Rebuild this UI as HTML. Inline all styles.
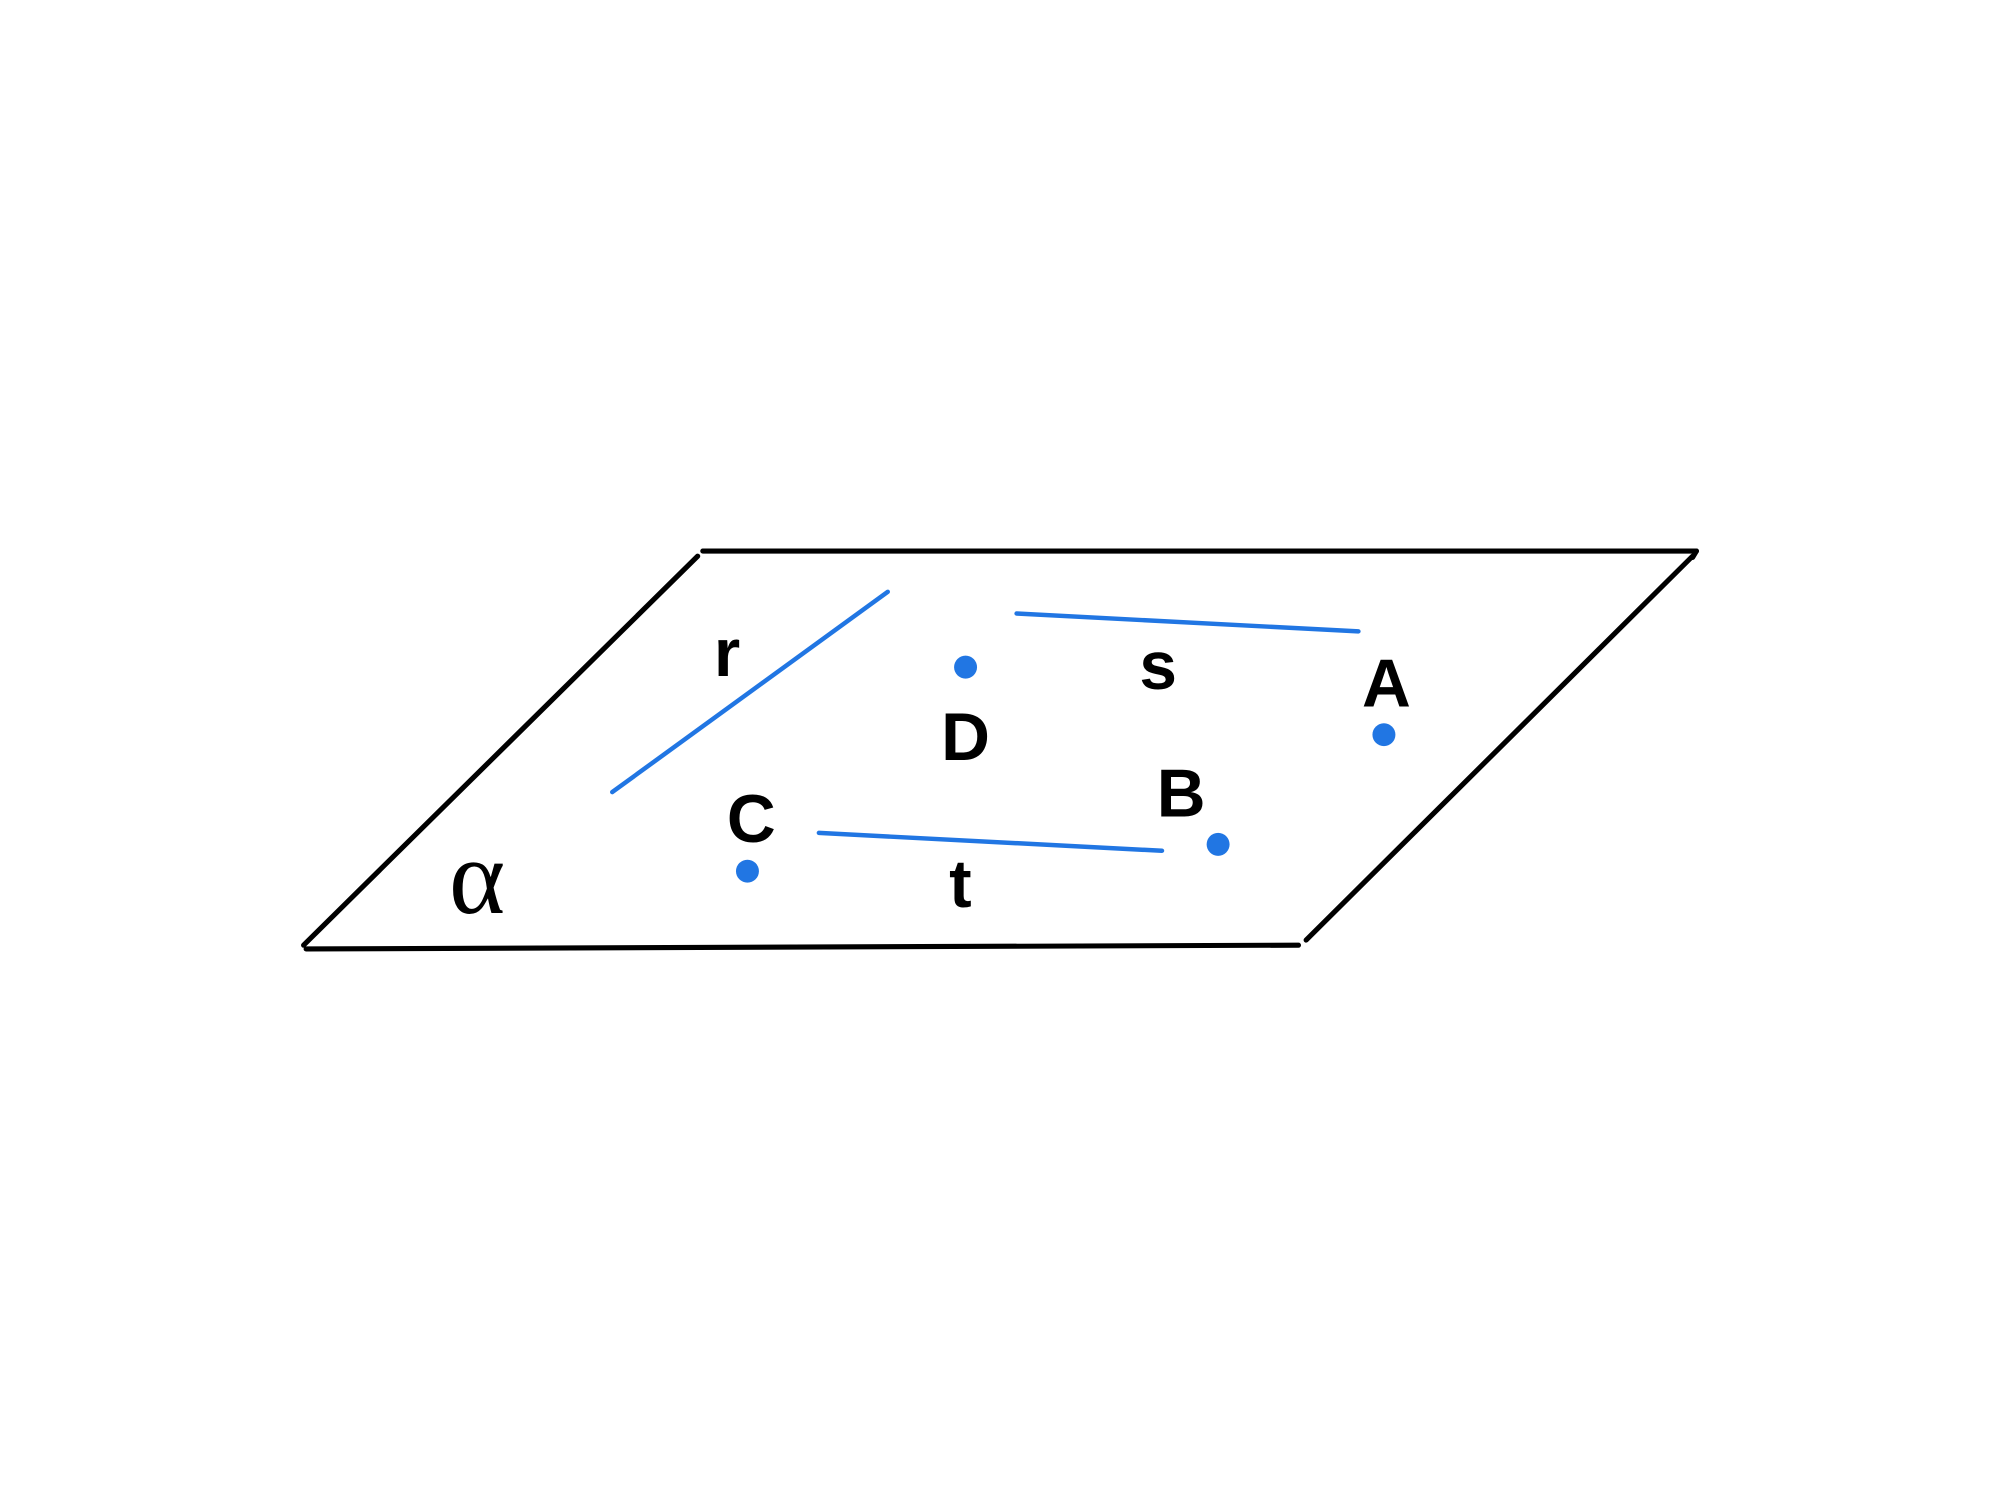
<!DOCTYPE html>
<html><head><meta charset="utf-8"><style>
html,body{margin:0;padding:0;background:#fff;width:2000px;height:1500px;overflow:hidden}
svg{display:block}
</style></head><body>
<svg width="2000" height="1500" viewBox="0 0 1568 1176" xmlns="http://www.w3.org/2000/svg">
<g stroke="#000" stroke-width="4" stroke-linecap="round" fill="none">
<line x1="551" y1="432" x2="1330" y2="432"/>
<line x1="1330" y1="432" x2="1327" y2="437"/>
<line x1="547" y1="436" x2="238" y2="741"/>
<line x1="240" y1="744" x2="1018" y2="741"/>
<line x1="1327" y1="436" x2="1024" y2="737"/>
</g>
<g stroke="#2176e3" stroke-width="3.5" stroke-linecap="round">
<line x1="480" y1="621" x2="696" y2="464"/>
<line x1="797" y1="481" x2="1065" y2="495"/>
<line x1="642" y1="653" x2="911" y2="667"/>
</g>
<g fill="#2176e3">
<circle cx="757" cy="523" r="9"/>
<circle cx="1085" cy="576" r="9"/>
<circle cx="955" cy="662" r="9"/>
<circle cx="586" cy="683" r="9"/>
</g>
<g font-family="Liberation Sans, sans-serif" font-weight="bold" font-size="53" text-anchor="middle" fill="#000">
<text x="570" y="530">r</text>
<text x="908" y="540">s</text>
<text x="1087" y="554">A</text>
<text x="757" y="596">D</text>
<text x="926" y="640">B</text>
<text x="589" y="660">C</text>
<text x="753" y="711">t</text>
</g>
<text x="374" y="716" font-family="Liberation Serif, serif" font-size="84" text-anchor="middle" fill="#000">α</text>
</svg>
</body></html>
